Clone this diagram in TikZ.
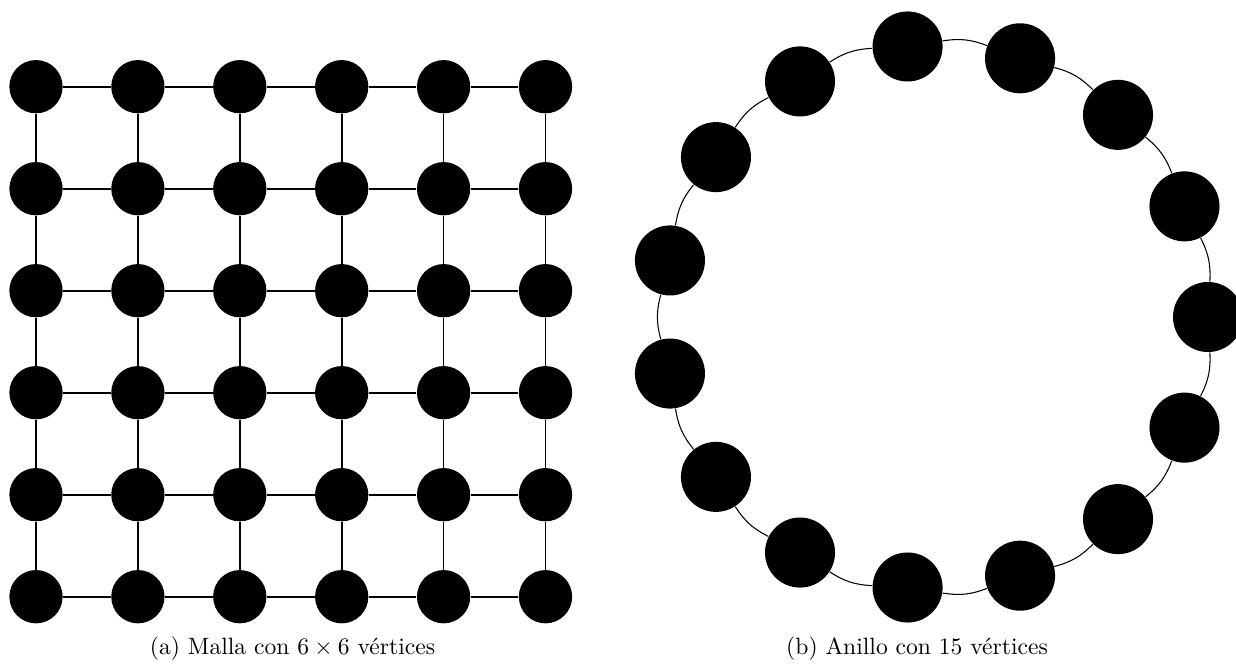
\documentclass[tikz,border=0pt]{standalone}
\usetikzlibrary{calc}
\begin{document}
\begin{tikzpicture}[x=0.424pt,y=-0.424pt,
  gnode/.style={circle,fill=black,inner sep=0pt,minimum size=22.6pt},
  rnode/.style={circle,fill=black,inner sep=0pt,minimum size=29.7pt},
  gedge/.style={line width=0.75pt},
  redge/.style={line width=0.45pt},
  captxt/.style={inner sep=0pt,anchor=base}]
\useasboundingbox (0,0) rectangle (1236,669);
% grid
\foreach \i in {0,...,5}{
  \foreach \j in {0,...,5}{
    \node[gnode] (g\i\j) at ({36+101.9*\i},{86.7+102*\j}) {};
  }
}
\foreach \i in {0,...,5}{
  \foreach \j in {0,...,4}{
    \pgfmathtruncatemacro{\k}{\j+1}
    \draw[gedge] (g\i\j) -- (g\i\k);
    \draw[gedge] (g\j\i) -- (g\k\i);
  }
}
% ring
\foreach \n in {0,...,14}{
  \node[rnode] (r\n) at ({936+272*cos(24*\n)},{317-272*sin(24*\n)}) {};
}
\foreach \n in {0,...,14}{
  \pgfmathtruncatemacro{\m}{mod(\n+1,15)}
  \draw[redge] (r\n) to[bend right=15] (r\m);
}
\node[captxt] (ca) at (292.5,655) {(a) Malla con $6\times6$ vértices};
\node[captxt] (cb) at (917,655) {(b) Anillo con 15 vértices};
\end{tikzpicture}
\end{document}
